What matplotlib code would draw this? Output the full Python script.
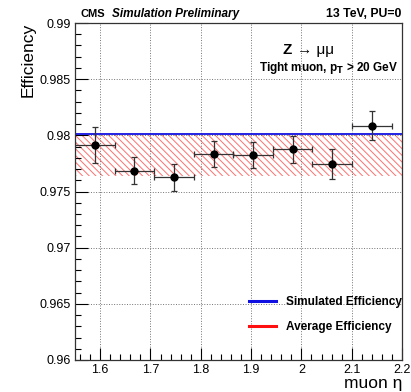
import numpy as np
import matplotlib
matplotlib.use("Agg")
import matplotlib.pyplot as plt
from matplotlib.lines import Line2D
from matplotlib.ticker import MultipleLocator

plt.rcParams['font.family'] = ['Liberation Sans', 'DejaVu Sans']
plt.rcParams['hatch.linewidth'] = 0.7

# data
bin_edges = [1.55, 1.629, 1.7075, 1.786, 1.865, 1.944, 2.022, 2.101, 2.18]
eff = [0.97914, 0.97686, 0.97627, 0.97834, 0.97825, 0.97878, 0.97745, 0.98086]
eff_err = [0.0016, 0.0012, 0.0012, 0.0012, 0.0012, 0.0012, 0.0013, 0.0013]
sim_eff = 0.9801
avg_low, avg_high = 0.97641, 0.98005
x_ticks = [1.6, 1.7, 1.8, 1.9, 2.0, 2.1, 2.2]
x_ticklabels = ['1.6', '1.7', '1.8', '1.9', '2', '2.1', '2.2']
y_ticks = [0.96, 0.965, 0.97, 0.975, 0.98, 0.985, 0.99]
y_ticklabels = ['0.96', '0.965', '0.97', '0.975', '0.98', '0.985', '0.99']

W, H = 411, 392
fig = plt.figure(figsize=(W / 100, H / 100), dpi=100)
ax_l, ax_r, ax_t, ax_b = 75, 402, 23, 360
ax = fig.add_axes([ax_l / W, 1 - ax_b / H, (ax_r - ax_l) / W, (ax_b - ax_t) / H])

edges = np.array(bin_edges)
centers = 0.5 * (edges[:-1] + edges[1:])
half_w = 0.5 * np.diff(edges)

# average efficiency band (hatched) and simulated efficiency line
ax.fill_between([1.55, 2.2], avg_low, avg_high, facecolor='none',
                edgecolor='#ff7070', hatch='\\\\\\\\\\', linewidth=0, zorder=1)
ax.axhline(sim_eff, color='#1010e0', lw=1.3, zorder=2)

ax.errorbar(centers, eff, xerr=half_w, yerr=eff_err, fmt='o', color='black',
            ecolor='#333333', elinewidth=0.9, capsize=2, capthick=0.9,
            markersize=5, zorder=5)

ax.set_xlim(1.55, 2.2)
ax.set_ylim(0.96, 0.99)
ax.set_xticks(x_ticks)
ax.set_xticklabels(x_ticklabels)
ax.set_yticks(y_ticks)
ax.set_yticklabels(y_ticklabels)
ax.xaxis.set_minor_locator(MultipleLocator(0.02))
ax.yaxis.set_minor_locator(MultipleLocator(0.001))
ax.tick_params(which='both', direction='in', top=False, right=False, labelsize=9)
ax.tick_params(which='major', length=9, width=0.8)
ax.tick_params(which='minor', length=4.5, width=0.8)
ax.tick_params(axis='x', pad=3)
ax.tick_params(axis='y', pad=3)
ax.grid(True, which='major', linestyle=':', color='0.45', lw=0.7)
for s in ax.spines.values():
    s.set_linewidth(0.9)
    s.set_color('#333333')


def fx(px):
    return px / W


def fy(py):
    return 1 - py / H


fig.text(fx(28), fy(23), 'Efficiency', fontsize=12.5, rotation=90,
         ha='center', va='top')
fig.text(fx(402), fy(391), 'muon η', fontsize=12.5, ha='right', va='bottom')

fig.text(fx(80), fy(14), 'CMS', fontsize=8, fontweight='bold', va='center')
fig.text(fx(112), fy(14), 'Simulation Preliminary', fontsize=8.5,
         fontweight='bold', style='italic', va='center')
fig.text(fx(401), fy(14), '13 TeV, PU=0', fontsize=8.8, fontweight='bold',
         va='center', ha='right')
fig.text(fx(282), fy(50), 'Z', fontsize=11, fontweight='bold', va='center')
fig.text(fx(297), fy(50), '→ μμ', fontsize=11, va='center')
fig.text(fx(398), fy(68), r'Tight muon, p$_{\mathbf{T}}$ > 20 GeV', fontsize=8.5,
         fontweight='bold', va='center', ha='right')

handles = [Line2D([], [], color='#1010e0', lw=2.2),
           Line2D([], [], color='#ff1010', lw=2.2)]
ax.legend(handles, ['Simulated Efficiency', 'Average Efficiency'],
          loc='upper left', bbox_to_anchor=(fx(249), fy(296)),
          bbox_transform=fig.transFigure, frameon=False,
          prop={'weight': 'bold', 'size': 8.5}, handlelength=2.3,
          handletextpad=0.8, labelspacing=1.1, borderpad=0, borderaxespad=0)

fig.savefig('out.png', dpi=100)
